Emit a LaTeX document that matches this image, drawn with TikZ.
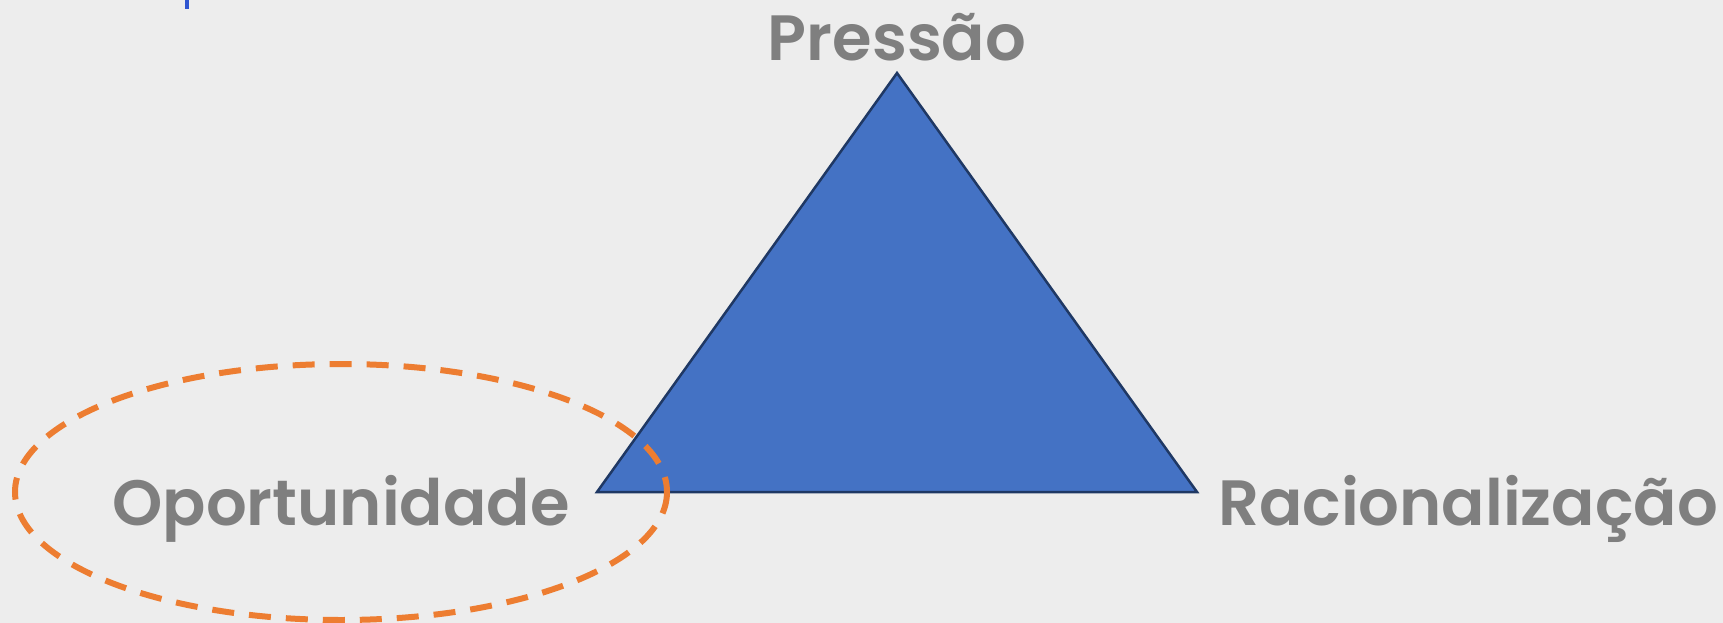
\documentclass[tikz,border=0pt]{standalone}
\usepackage{fontspec}
\setmainfont{Poppins}[BoldFont={Poppins SemiBold}]
\definecolor{bgGrey}{HTML}{EDEDED}
\definecolor{labelGrey}{HTML}{7F7F7F}
\definecolor{triFill}{HTML}{4472C4}
\definecolor{triLine}{HTML}{1F3864}
\definecolor{ringOrange}{HTML}{ED7D31}
\definecolor{markBlue}{HTML}{2F55D0}
\tikzset{
  cornerlabel/.style={anchor=base,inner sep=0pt,text=labelGrey,font=\fontsize{64}{70}\selectfont\bfseries},
}
\begin{document}
\begin{tikzpicture}[x=1pt,y=1pt,yscale=-1,xscale=1]
  % background
  \fill[bgGrey] (0,0) rectangle (1723,623);
  \useasboundingbox (0,0) rectangle (1723,623);
  % small mark top left
  \fill[markBlue] (185,0) rectangle (189,9);
  % triangle corners
  \coordinate (apex) at (897,73);
  \coordinate (leftC) at (597,492);
  \coordinate (rightC) at (1197,492);
  \filldraw[fill=triFill,draw=triLine,line width=2.5pt,line join=miter] (apex) -- (leftC) -- (rightC) -- cycle;
  % dashed ring round Oportunidade
  \coordinate (ringC) at (341,492);
  \draw[ringOrange,line width=6pt,dash pattern=on 22pt off 15pt] (ringC) ellipse [x radius=326,y radius=128];
  % labels
  \node[cornerlabel] (pressao) at (897,61) {Pressão};
  \node[cornerlabel] (oport) at (341,525) {Oportunidade};
  \node[cornerlabel] (racio) at (1468,525) {Racionalização};
\end{tikzpicture}
\end{document}
